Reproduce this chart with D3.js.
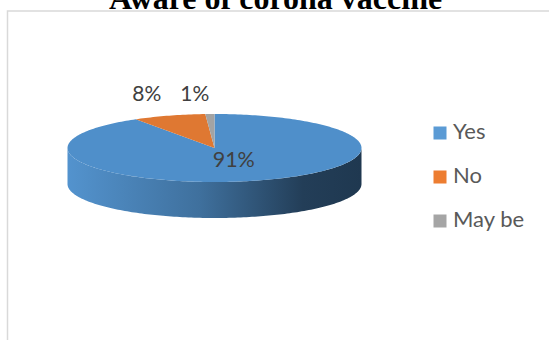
<!DOCTYPE html>
<html>
<head>
<meta charset="utf-8">
<script src="https://cdn.jsdelivr.net/npm/d3@7/dist/d3.min.js"></script>
<style>
  html, body { margin: 0; padding: 0; background: #fff; }
  svg { display: block; }
</style>
</head>
<body>
<svg id="chart" width="549" height="340"></svg>
<script>
// Survey answers and their shares
const categories = ["Yes", "No", "May be"];
const values = [91, 8, 1];
const colors = ["#4f8fca", "#df7832", "#a3a3a3"];
const titleText = "Aware of corona vaccine";

const W = 549, H = 340;
const svg = d3.select("#chart");

// chart frame (only the top and left borders fall inside the view)
svg.append("rect")
  .attr("x", 7.5).attr("y", 11).attr("width", 700).attr("height", 500)
  .attr("fill", "none").attr("stroke", "#d9d9d9").attr("stroke-width", 1.5);

svg.append("text")
  .attr("x", 275.5).attr("y", 9)
  .attr("text-anchor", "middle")
  .style("font-family", "'Liberation Serif', 'Times New Roman', serif")
  .style("font-weight", "bold")
  .style("font-size", "32px")
  .attr("fill", "#000")
  .text(titleText);

// tilted pie geometry
const cx = 214.5, cy = 148, rx = 147, ry = 34, depth = 36;
const pie = d3.pie().sort(null).startAngle(0).endAngle(2 * Math.PI);
const arcs = pie(values);

// project an angle (clockwise from 12 o'clock) onto the tilted ellipse
const px = (a, k = 1) => cx + Math.sin(a) * rx * k;
const py = (a, k = 1, dy = 0) => cy - Math.cos(a) * ry * k + dy;

function rimPoints(a0, a1, dy) {
  const n = Math.max(2, Math.ceil((a1 - a0) / 0.02));
  const pts = [];
  for (let i = 0; i <= n; i++) {
    const a = a0 + (a1 - a0) * i / n;
    pts.push([px(a), py(a, 1, dy)]);
  }
  return pts;
}

const defs = svg.append("defs");
const grad = defs.append("linearGradient")
  .attr("id", "sideShade")
  .attr("gradientUnits", "userSpaceOnUse")
  .attr("x1", cx - rx).attr("x2", cx + rx).attr("y1", 0).attr("y2", 0);
grad.append("stop").attr("offset", 0).attr("stop-color", "#5393ce");
grad.append("stop").attr("offset", 0.45).attr("stop-color", "#3f709d");
grad.append("stop").attr("offset", 0.8).attr("stop-color", "#233e58");
grad.append("stop").attr("offset", 1).attr("stop-color", "#1f3850");

const line = d3.line();

// front wall: the visible part lies between 90° and 270°
const front0 = Math.PI / 2, front1 = 3 * Math.PI / 2;
arcs.forEach((d, i) => {
  const a0 = Math.max(d.startAngle, front0);
  const a1 = Math.min(d.endAngle, front1);
  if (a1 <= a0) return;
  const top = rimPoints(a0, a1, 0);
  const bottom = rimPoints(a0, a1, depth).reverse();
  svg.append("path")
    .attr("d", line(top.concat(bottom)) + "Z")
    .attr("fill", i === 0 ? "url(#sideShade)" : d3.color(colors[i]).darker(1));
});

// top faces
arcs.forEach((d, i) => {
  const pts = [[cx, cy]].concat(rimPoints(d.startAngle, d.endAngle, 0));
  svg.append("path")
    .attr("d", line(pts) + "Z")
    .attr("fill", colors[i]);
});

const labelFont = "Lato, 'Open Sans', sans-serif";
const fmt = v => Math.round(v / d3.sum(values) * 100) + "%";

// large slice: label inside the top face
const big = arcs[0];
const bigMid = (big.startAngle + big.endAngle) / 2;
svg.append("text")
  .attr("x", px(bigMid, 0.47))
  .attr("y", py(bigMid, 0.55) + 1)
  .attr("text-anchor", "middle")
  .style("font-family", labelFont).style("font-size", "21.5px")
  .attr("fill", "#404040")
  .text(fmt(big.value));

// small slices: labels above the rim, laid out right to left
let nextRight = null;
const gap = 48;
for (let i = arcs.length - 1; i >= 1; i--) {
  const d = arcs[i];
  const mid = (d.startAngle + d.endAngle) / 2;
  let xc = px(mid) - 15;
  if (nextRight !== null && xc > nextRight - gap) xc = nextRight - gap;
  nextRight = xc;
  svg.append("text")
    .attr("x", xc)
    .attr("y", cy - ry - 13)
    .attr("text-anchor", "middle")
    .style("font-family", labelFont).style("font-size", "21px")
    .attr("fill", "#404040")
    .text(fmt(d.value));
}

// legend
const legend = svg.append("g").attr("transform", "translate(433.5,126.5)");
const legendColors = ["#5b9bd5", "#ed7d31", "#a5a5a5"];
categories.forEach((c, i) => {
  const g = legend.append("g").attr("transform", `translate(0,${i * 44})`);
  g.append("rect").attr("width", 13).attr("height", 13).attr("fill", legendColors[i]);
  g.append("text")
    .attr("x", 19.5).attr("y", 12.5)
    .style("font-family", labelFont).style("font-size", "22px")
    .attr("fill", "#595959")
    .text(c);
});
</script>
</body>
</html>
